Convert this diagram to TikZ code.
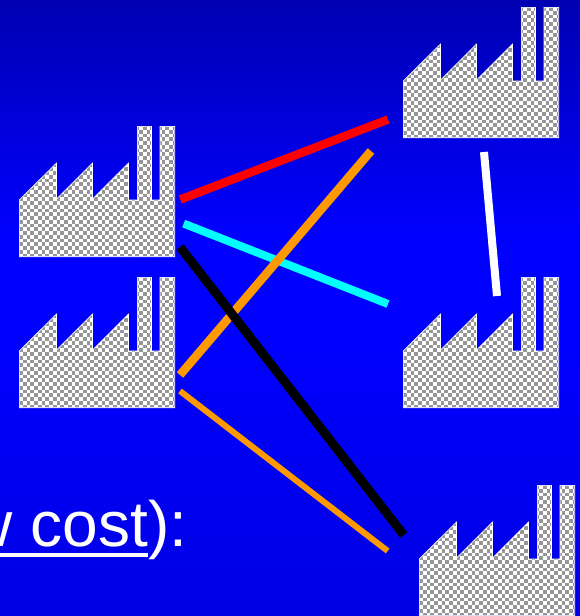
\documentclass[tikz,border=0pt]{standalone}
\usepackage{fontspec}
\setmainfont{Liberation Sans}
\definecolor{bgtop}{RGB}{0,0,178}
\definecolor{bgmid}{RGB}{0,0,255}
\definecolor{bgbot}{RGB}{0,0,228}
\definecolor{chkgray}{RGB}{150,150,150}
\definecolor{linkorange}{RGB}{255,153,0}
\definecolor{linkcyan}{RGB}{0,255,255}
\pgfdeclareverticalshading{slidebg}{100bp}{
  color(0bp)=(bgbot); color(25bp)=(bgbot); color(47.5bp)=(bgmid); color(56bp)=(bgmid); color(75bp)=(bgtop); color(100bp)=(bgtop)}
\newcommand{\factoryoutline}{(0.3,74) -- (37.5,37) -- (37.5,73) -- (73.5,37) -- (73.5,73) -- (109.5,37) -- (109.5,74) -- (118.3,74) -- (118.3,0.3) -- (132.5,0.3) -- (132.5,74) -- (141,74) -- (141,0.3) -- (155.7,0.3) -- (155.7,130.7) -- (0.3,130.7) -- cycle}
\newcommand{\factory}[3]{%
  \begin{scope}[shift={(#2,#3)}]
    \node[factoryanchor] (#1) at (78,65) {};
    \begin{scope}
      \clip \factoryoutline;
      \fill[white] (0,0) rectangle (156,131);
      \foreach \i in {0,...,41}{\foreach \j in {0,...,35}{
        \pgfmathparse{int(mod(\i+\j,2))}
        \ifnum\pgfmathresult=1
          \fill[chkgray] (\i*3.75,\j*3.75) rectangle ++(3.75,3.75);
        \fi}}
    \end{scope}
    \draw[white,line width=0.6pt] \factoryoutline;
  \end{scope}}
\tikzset{
  factoryanchor/.style={inner sep=0pt,minimum size=0pt},
  link/.style={line width=#1,line cap=butt},
  costlabel/.style={text=white,font=\fontsize{64}{64}\selectfont,inner sep=0pt,anchor=base east}
}
\begin{document}
\begin{tikzpicture}[x=1pt,y=-1pt]
\useasboundingbox (0,0) rectangle (580,616);
\clip (0,0) rectangle (580,616);
\shade[shading=slidebg] (0,0) rectangle (580,616);
\factory{fa}{19}{126}
\factory{fb}{19}{277}
\factory{fc}{403}{7}
\factory{fd}{403}{277}
\factory{fe}{419}{485}
\coordinate (r1) at (180.3,199.5); \coordinate (r2) at (388,119.5);
\coordinate (o1) at (371,151); \coordinate (o2) at (180,375);
\coordinate (c1) at (183.7,223.6); \coordinate (c2) at (388,304);
\coordinate (k1) at (180,247); \coordinate (k2) at (403.7,535);
\coordinate (w1) at (484,152); \coordinate (w2) at (497,296);
\coordinate (t1) at (180,391); \coordinate (t2) at (387.7,551);
\draw[link=8.5pt,red] (r1) -- (r2);
\draw[link=8pt,linkcyan] (c1) -- (c2);
\draw[link=8.5pt,linkorange] (o1) -- (o2);
\draw[link=6pt,linkorange] (t1) -- (t2);
\draw[link=9pt,black] (k1) -- (k2);
\draw[link=8pt,white] (w1) -- (w2);
\node[costlabel] (cost) at (187.5,546) {w cost):};
\coordinate (u1) at (-5,554.7); \coordinate (u2) at (148,554.7);
\draw[link=4pt,white] (u1) -- (u2);
\end{tikzpicture}
\end{document}
